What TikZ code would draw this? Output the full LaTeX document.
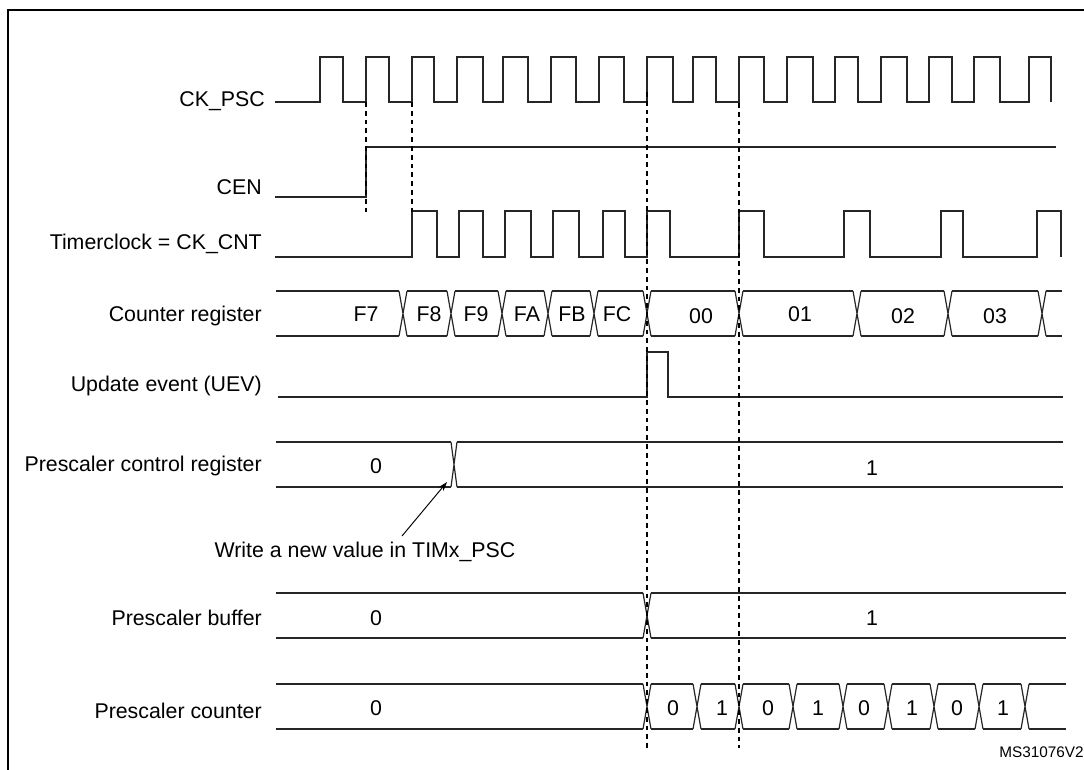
\documentclass[tikz,border=0pt]{standalone}
\usepackage{fontspec}
\setmainfont{Liberation Sans}
\usetikzlibrary{arrows.meta}
\newcommand\busx[4]{% crossing at #1, top #2, bottom #3, half width #4
  \fill[white] (#1-#4,#2-1.5) rectangle (#1+#4,#3+1.5);
  \draw[sig] (#1-#4,#2) -- (#1+#4,#3) (#1-#4,#3) -- (#1+#4,#2);}
\begin{document}
\begin{tikzpicture}[x=0.75pt,y=-0.75pt,
  sig/.style={line width=0.9pt, draw=black!85, line join=miter},
  guide/.style={line width=0.8pt, draw=black, dash pattern=on 3.6pt off 3pt},
  lbl/.style={anchor=east, font=\fontsize{16}{19}\selectfont, inner sep=0pt},
  val/.style={font=\fontsize{16}{19}\selectfont, inner sep=0pt}]
\useasboundingbox (0,0) rectangle (1084,769);
\clip (0,0) rectangle (1084,769);
% frame
\draw[line width=1.6pt] (8,790) -- (8,10) -- (1100,10);

% labels
\node[lbl] (lpsc) at (265,101) {CK\_PSC};
\node[lbl] (lcen) at (262,187) {CEN};
\node[lbl] (lcnt) at (262,244) {Timerclock = CK\_CNT};
\node[lbl] (lcr)  at (262,316) {Counter register};
\node[lbl] (luev) at (262,386) {Update event (UEV)};
\node[lbl] (lpcr) at (262,466) {Prescaler control register};
\node[lbl] (lpb)  at (262,618) {Prescaler buffer};
\node[lbl] (lpc)  at (262,711) {Prescaler counter};

% CK_PSC
\draw[sig] (275,102) foreach \r/\f in {320/343, 366/389, 412/434, 457/483, 503/528, 551/576, 599/624, 647/673, 693/716, 739/764, 787/813, 835/858, 881/907, 929/952, 974/1000, 1029/1051}
  { -- (\r,102) -- (\r,57) -- (\f,57) -- (\f,102) };
% CEN
\draw[sig] (275,197) -- (366,197) -- (366,147) -- (1056,147);
% Timerclock
\draw[sig] (275,257) foreach \r/\f in {412/437, 459/483, 505/531, 553/579, 603/625, 647/670, 739/764, 844/870, 941/963, 1037/1061}
  { -- (\r,257) -- (\r,211) -- (\f,211) -- (\f,257) };

% Counter register
\draw[sig] (276,291) -- (1062,291) (276,336) -- (1062,336);
\foreach \c in {403,451,502,548,594,647,739,857,948,1042} {\busx{\c}{291}{336}{4}}
\foreach \t/\x/\y in {F7/366/314, F8/429/314, F9/476/314, FA/527/314, FB/572/314, FC/617/314, 00/701/316, 01/800/314, 02/903/316, 03/995/316}
  {\node[val] (cr\t) at (\x,\y) {\t};}

% Update event
\draw[sig] (278,397) -- (647,397) -- (647,352) -- (668,352) -- (668,397) -- (1063,397);

% Prescaler control register
\draw[sig] (276,442) -- (1063,442) (276,487) -- (1063,487);
\busx{454}{442}{487}{3}
\node[val] (pcr0) at (376,466) {0};
\node[val] (pcr1) at (872,468) {1};

% Prescaler buffer
\draw[sig] (276,593) -- (1066,593) (276,638) -- (1066,638);
\busx{647}{593}{638}{4}
\node[val] (pb0) at (376,618) {0};
\node[val] (pb1) at (872,618) {1};

% Prescaler counter
\draw[sig] (276,684) -- (1066,684) (276,729) -- (1066,729);
\foreach \c in {647,697,739,793,843,888,934,979,1025} {\busx{\c}{684}{729}{4}}
\node[val] (pc0) at (376,708) {0};
\foreach \v/\x [count=\i] in {0/673, 1/722, 0/768, 1/818, 0/864, 1/912, 0/957, 1/1003}
  {\node[val] (pcv\i) at (\x,708) {\v};}

% guides
\draw[guide] (366,102) -- (366,215);
\draw[guide] (412,102) -- (412,212);
\draw[guide] (647,92) -- (647,748);
\draw[guide] (739,103) -- (739,748);

% annotation
\node[val] (wnote) at (365,552) {Write a new value in TIMx\_PSC};
\coordinate (ws) at (402,536);
\coordinate (wt) at (447,482);
\draw[line width=0.7pt, -{Stealth[length=7pt,width=4.5pt]}] (ws) -- (wt);

\node[anchor=east, font=\fontsize{11.5}{13}\selectfont, inner sep=0pt] (ms) at (1084,752) {MS31076V2};
\end{tikzpicture}
\end{document}
